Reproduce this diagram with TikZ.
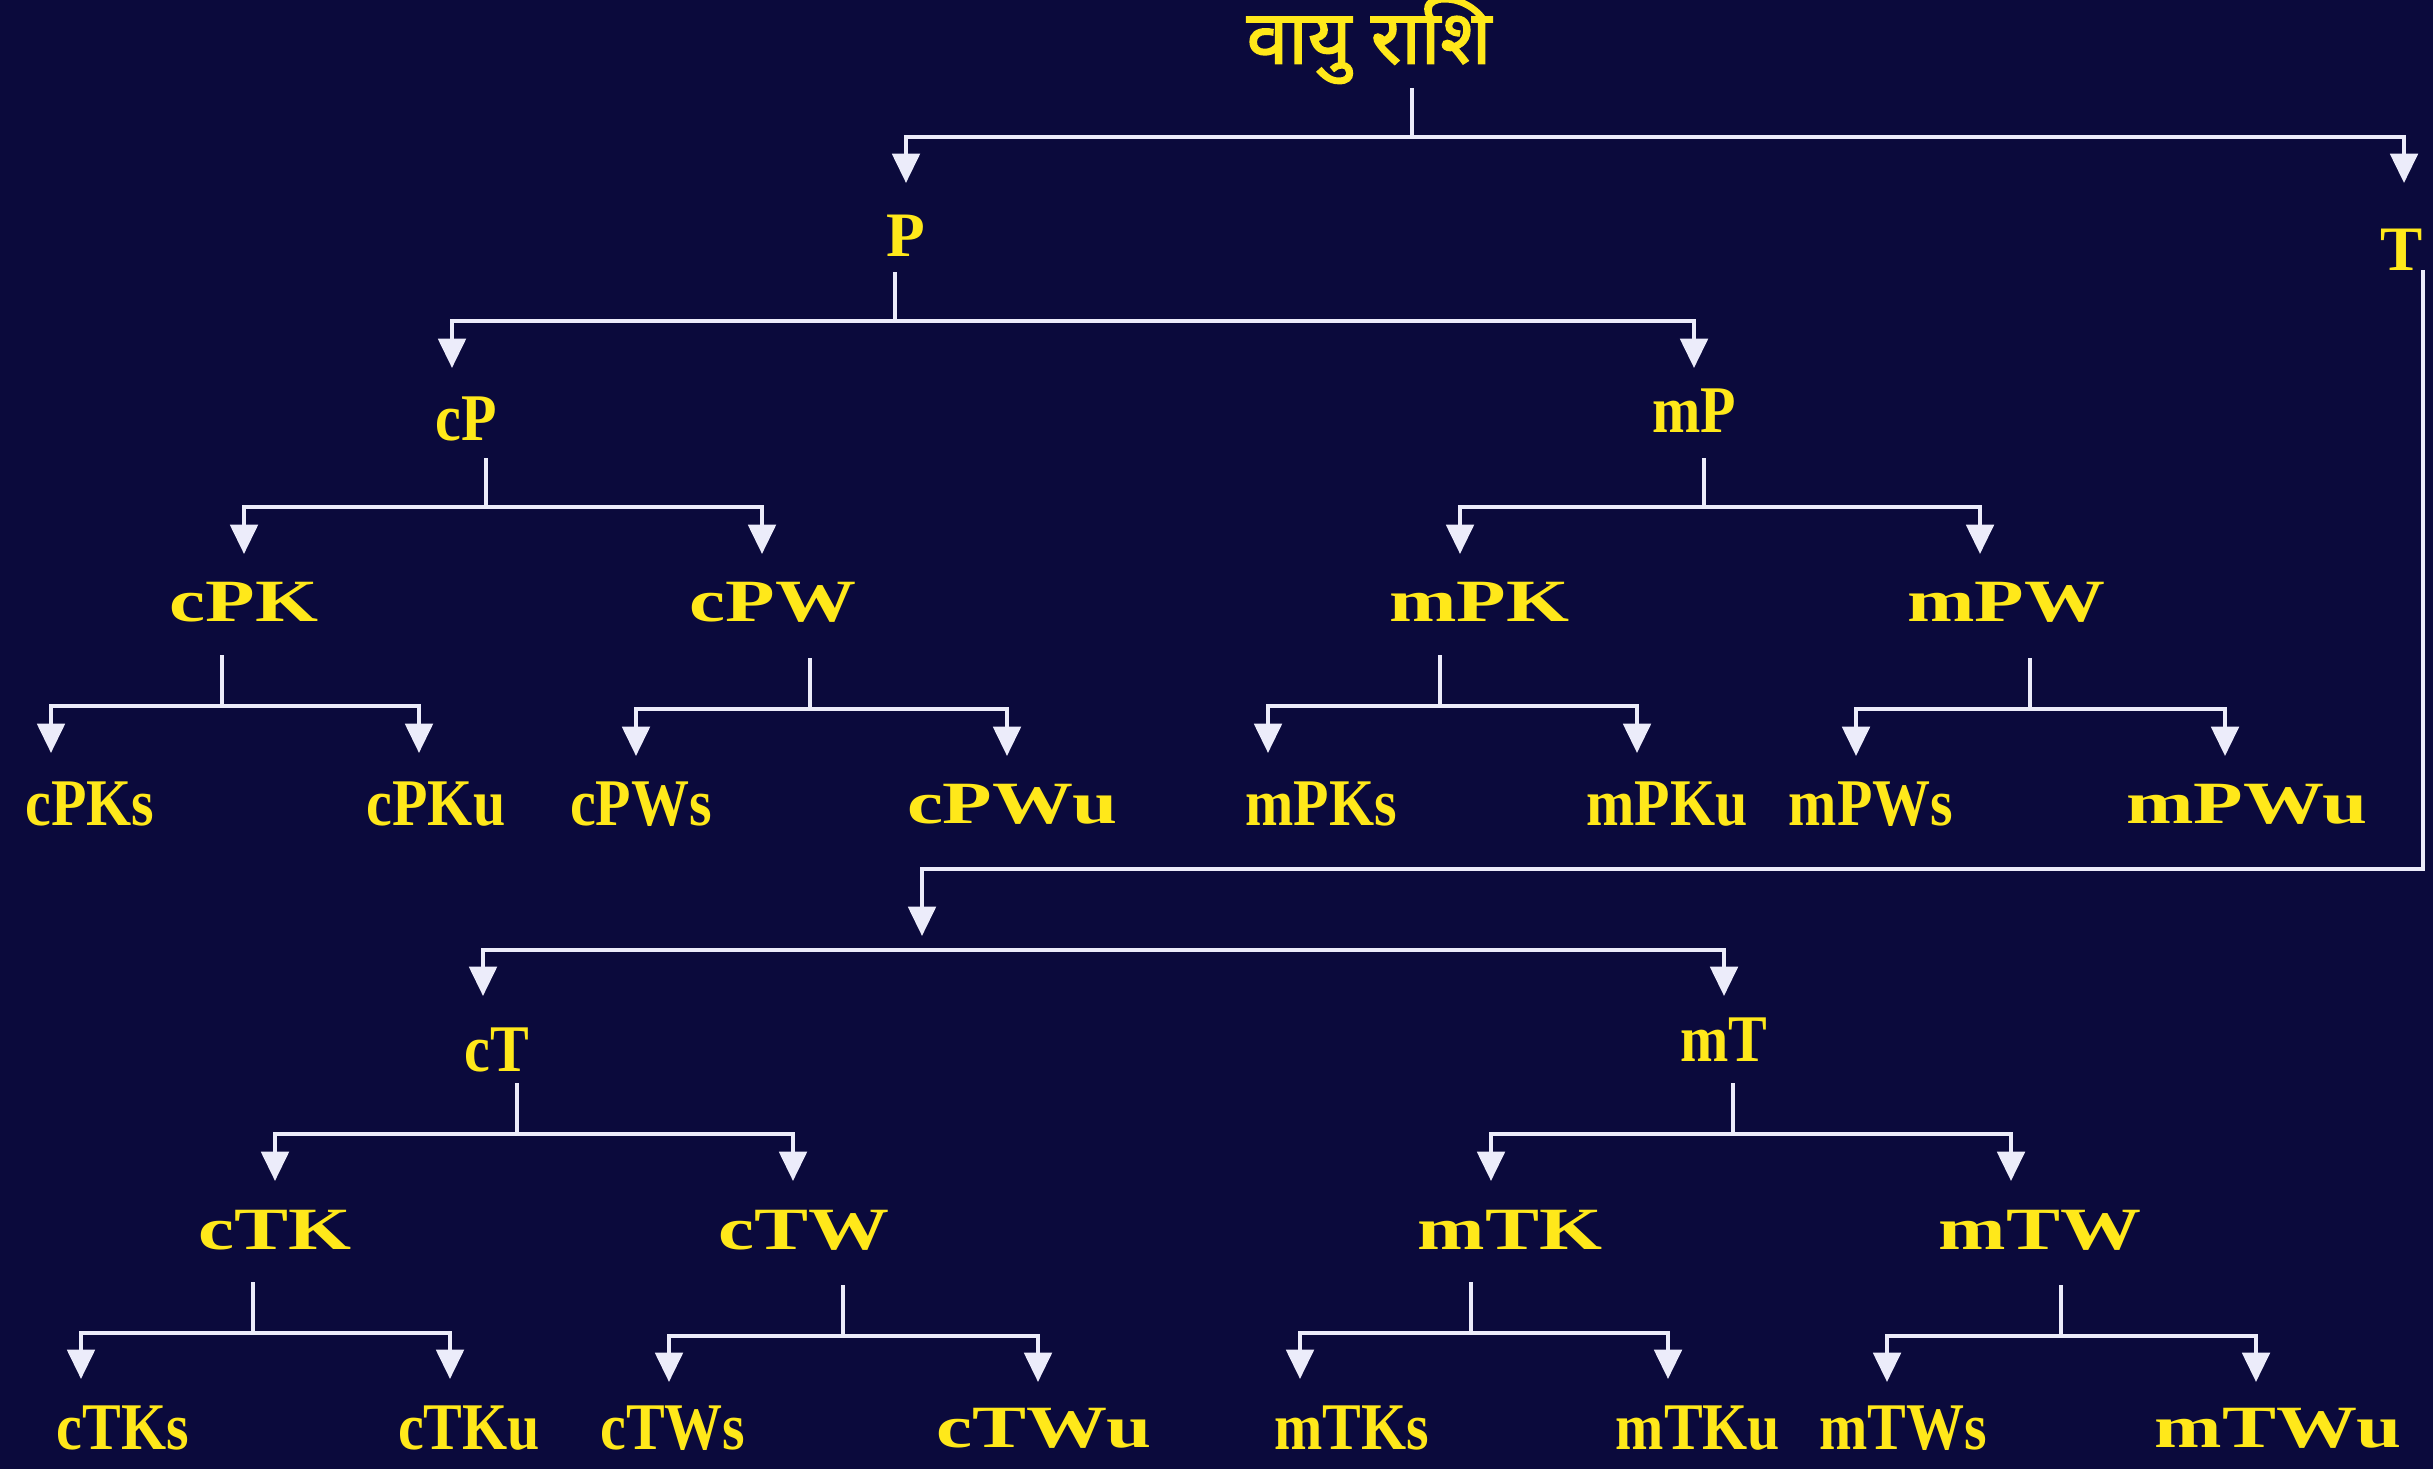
\documentclass[tikz,border=0pt]{standalone}
\usepackage{fontspec}
\usetikzlibrary{arrows.meta}
\setmainfont{Liberation Serif}
\newfontfamily\widefont[FakeStretch=1.35]{Liberation Serif}
\newfontfamily\slimfont[FakeStretch=0.87]{Liberation Serif}
\newfontfamily\devfont[Script=Devanagari,FakeBold=2]{Noto Sans}
\definecolor{bg}{HTML}{0B0A3C}
\definecolor{lbl}{HTML}{FFE81A}
\definecolor{wirec}{HTML}{ECECFA}

% fork: stub x, stub top y, bar y, left x, right x, tip y
\newcommand\fork[6]{%
  \draw[wire] (#1,#2) -- (#1,#3);
  \draw[wire,tip-tip] (#4,#6) -- (#4,#3) -- (#5,#3) -- (#5,#6);
}

\begin{document}
\begin{tikzpicture}[x=0.3pt,y=-0.3pt,
  lab/.style={text=lbl, inner sep=0pt},
  lblwide/.style={lab, font=\widefont\bfseries\fontsize{18}{20}\selectfont},
  lblslim/.style={lab, font=\slimfont\bfseries\fontsize{20}{22}\selectfont},
  lblreg/.style={lab, font=\bfseries\fontsize{19}{21}\selectfont},
  lbltitle/.style={lab, font=\devfont\fontsize{22.5}{26}\selectfont},
  wire/.style={draw=wirec, line width=1.25pt},
  tip/.tip={Triangle[width=8.2pt,length=8.8pt]}]

\fill[bg] (0,0) rectangle (2433,1469);
\useasboundingbox (0,0) rectangle (2433,1469);

% root and first split
\node[lbltitle] (root) at (1369,40) {वायु राशि};
\node[lblreg] (P) at (906,236) {P};
\node[lblreg] (T) at (2402,250) {T};

% P branch
\node[lblslim] (cP) at (466,419) {cP};
\node[lblslim] (mP) at (1694,411) {mP};
\node[lblwide] (cPK) at (244,602) {cPK};
\node[lblwide] (cPW) at (773,602) {cPW};
\node[lblwide] (mPK) at (1479,602) {mPK};
\node[lblwide] (mPW) at (2006,602) {mPW};
\node[lblslim] (cPKs) at (90,804) {cPKs};
\node[lblslim] (cPKu) at (436,804) {cPKu};
\node[lblslim] (cPWs) at (641,804) {cPWs};
\node[lblwide] (cPWu) at (1012,804) {cPWu};
\node[lblslim] (mPKs) at (1321,804) {mPKs};
\node[lblslim] (mPKu) at (1667,804) {mPKu};
\node[lblslim] (mPWs) at (1871,804) {mPWs};
\node[lblwide] (mPWu) at (2247,804) {mPWu};

% T branch
\node[lblslim] (cT) at (497,1050) {cT};
\node[lblslim] (mT) at (1724,1040) {mT};
\node[lblwide] (cTK) at (275,1230) {cTK};
\node[lblwide] (cTW) at (804,1230) {cTW};
\node[lblwide] (mTK) at (1510,1230) {mTK};
\node[lblwide] (mTW) at (2040,1230) {mTW};
\node[lblslim] (cTKs) at (123,1428) {cTKs};
\node[lblslim] (cTKu) at (469,1428) {cTKu};
\node[lblslim] (cTWs) at (673,1428) {cTWs};
\node[lblwide] (cTWu) at (1044,1428) {cTWu};
\node[lblslim] (mTKs) at (1352,1428) {mTKs};
\node[lblslim] (mTKu) at (1698,1428) {mTKu};
\node[lblslim] (mTWs) at (1903,1428) {mTWs};
\node[lblwide] (mTWu) at (2278,1428) {mTWu};

% connectors
\fork{1412}{88}{137}{906}{2404}{183}
\fork{895}{272}{321}{452}{1694}{368}
\fork{486}{458}{507}{244}{762}{554}
\fork{1704}{458}{507}{1460}{1980}{554}
\fork{222}{655}{706}{51}{419}{753}
\fork{810}{658}{709}{636}{1007}{756}
\fork{1440}{655}{706}{1268}{1637}{753}
\fork{2030}{658}{709}{1856}{2225}{756}

% T feeds the lower tree
\coordinate (Tout) at (2423,270);
\coordinate (Tdrop) at (922,936);
\draw[wire,-tip] (Tout) |- (922,869) -- (Tdrop);
\draw[wire,tip-tip] (483,996) -- (483,950) -- (1724,950) -- (1724,996);

\fork{517}{1083}{1134}{275}{793}{1181}
\fork{1733}{1083}{1134}{1491}{2011}{1181}
\fork{253}{1282}{1333}{81}{450}{1379}
\fork{843}{1285}{1336}{669}{1038}{1382}
\fork{1471}{1282}{1333}{1300}{1668}{1379}
\fork{2061}{1285}{1336}{1887}{2256}{1382}
\end{tikzpicture}
\end{document}
